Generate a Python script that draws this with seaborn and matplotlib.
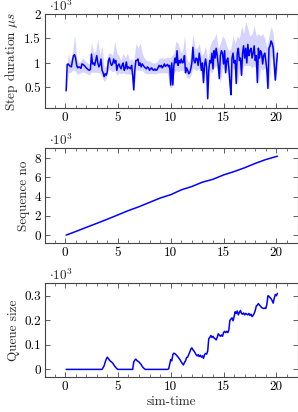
import numpy as np
import pandas as pd
import matplotlib
matplotlib.use("Agg")
import matplotlib.pyplot as plt
import seaborn as sns
from matplotlib.ticker import MultipleLocator, FixedLocator, FuncFormatter

# ---------------- data (values in thousands) ----------------
step_time = [round(0.1 + 0.1 * i, 1) for i in range(201)]
step_mean = [
    0.43, 0.97, 0.98, 0.95, 0.93, 0.92, 1.05, 1.15, 1.17, 1.10,
    0.95, 0.90, 0.92, 0.91, 0.89, 0.98, 0.97, 0.95, 0.93, 0.90,
    0.88, 0.86, 0.85, 0.87, 1.18, 0.98, 1.00, 0.95, 1.05, 1.15,
    1.00, 0.92, 0.96, 1.08, 0.85, 0.80, 0.72, 0.78, 0.75, 0.82,
    1.05, 1.10, 1.00, 0.95, 0.98, 1.08, 1.00, 1.05, 0.85, 0.95,
    0.98, 0.92, 0.88, 0.96, 1.00, 0.85, 0.90, 1.02, 0.88, 0.92,
    0.90, 0.88, 0.95, 0.75, 0.45, 0.85, 1.05, 1.05, 1.08, 0.95,
    1.00, 0.92, 0.98, 0.95, 0.92, 0.90, 0.88, 0.92, 0.90, 0.85,
    0.88, 0.90, 0.86, 0.85, 0.88, 0.85, 0.86, 0.90, 0.95, 0.92,
    0.95, 0.90, 0.93, 0.98, 0.93, 0.95, 0.97, 0.92, 0.95, 0.55,
    1.00, 0.55, 0.95, 1.10, 1.00, 1.25, 0.95, 1.05, 1.00, 1.08,
    1.00, 1.02, 1.15, 0.80, 0.90, 0.85, 0.78, 0.80, 0.88, 1.00,
    1.32, 1.05, 1.00, 1.10, 1.08, 0.95, 1.20, 1.05, 0.85, 1.00,
    0.60, 0.95, 1.08, 0.90, 0.27, 0.85, 1.05, 1.00, 1.20, 0.88,
    1.25, 1.10, 1.30, 1.15, 0.95, 0.68, 1.15, 1.25, 1.20, 0.98,
    1.25, 0.80, 1.05, 1.10, 0.90, 0.60, 0.35, 1.10, 1.20, 1.00,
    1.05, 0.58, 1.20, 1.30, 1.05, 1.10, 0.75, 1.20, 1.35, 1.10,
    1.30, 1.00, 1.38, 1.15, 1.25, 1.30, 1.10, 1.20, 1.35, 1.05,
    1.15, 0.60, 1.30, 1.10, 1.25, 1.20, 0.98, 1.15, 1.20, 1.05,
    0.85, 0.48, 1.30, 1.35, 1.45, 1.40, 1.30, 0.95, 0.65, 0.95,
    1.20,
]

band_time = [round(0.1 + 0.2 * i, 1) for i in range(101)]
band_upper = [
    0.60, 1.20, 1.05, 1.20, 1.57, 1.10, 1.00, 1.05, 1.10, 1.05,
    1.00, 0.98, 1.42, 1.20, 1.25, 1.48, 1.15, 1.35, 0.90, 0.95,
    1.20, 1.20, 1.15, 1.45, 1.20, 1.15, 1.05, 1.20, 1.10, 1.20,
    1.05, 1.10, 1.00, 1.40, 1.30, 1.40, 1.20, 1.10, 1.05, 1.05,
    1.02, 1.00, 1.00, 1.02, 1.10, 1.10, 1.10, 1.10, 1.12, 1.10,
    1.15, 1.20, 1.45, 1.40, 1.25, 1.20, 1.55, 1.10, 1.00, 1.15,
    1.60, 1.30, 1.30, 1.40, 1.15, 1.20, 1.35, 1.05, 1.35, 1.45,
    1.50, 1.60, 1.30, 1.40, 1.55, 1.50, 1.35, 1.25, 1.30, 1.55,
    1.40, 1.55, 1.50, 1.75, 1.60, 1.85, 1.70, 1.55, 1.60, 1.75,
    1.55, 1.60, 1.55, 1.60, 1.50, 1.30, 1.55, 1.75, 1.60, 1.10,
    1.30,
]
band_lower = [
    0.35, 0.80, 0.80, 0.85, 0.85, 0.78, 0.78, 0.80, 0.82, 0.80,
    0.78, 0.75, 0.82, 0.80, 0.82, 0.80, 0.80, 0.72, 0.62, 0.68,
    0.88, 0.85, 0.82, 0.85, 0.75, 0.80, 0.78, 0.80, 0.78, 0.78,
    0.78, 0.75, 0.40, 0.88, 0.85, 0.85, 0.85, 0.80, 0.78, 0.78,
    0.78, 0.78, 0.78, 0.78, 0.80, 0.80, 0.80, 0.80, 0.80, 0.50,
    0.50, 0.80, 0.85, 0.82, 0.85, 0.85, 0.85, 0.70, 0.68, 0.75,
    0.90, 0.85, 0.85, 0.90, 0.75, 0.55, 0.85, 0.25, 0.85, 0.80,
    0.90, 0.95, 0.80, 0.60, 0.90, 0.85, 0.85, 0.75, 0.33, 0.90,
    0.85, 0.55, 0.90, 0.70, 0.95, 0.95, 0.95, 0.95, 0.90, 0.95,
    0.85, 0.55, 0.90, 0.85, 0.90, 0.75, 0.45, 1.15, 1.00, 0.60,
    0.90,
]

seq_time = [0.1, 1, 2, 3, 4, 5, 6, 7, 8, 9, 10, 11, 12, 13, 14, 15, 16, 17, 18, 19, 20.1]
seq_no = [0.0, 0.37, 0.80, 1.22, 1.65, 2.10, 2.55, 2.95, 3.40, 3.85, 4.20,
          4.70, 5.05, 5.50, 5.80, 6.25, 6.60, 7.00, 7.45, 7.85, 8.20]

queue_time = [0.1, 3.5, 3.7, 3.8, 3.9, 4.0, 4.1, 4.2, 4.3, 4.4, 4.5, 4.6, 4.7, 4.8, 4.9, 5.0,
              6.3, 6.4, 6.5, 6.6, 6.7, 6.8, 6.9, 7.0, 7.1, 7.2, 7.3, 7.4, 7.5, 7.6,
              9.7, 9.8, 9.9, 10.0, 10.1, 10.2, 10.3, 10.4, 10.5, 10.6, 10.7, 10.8, 10.9, 11.0, 11.1, 11.2,
              11.3, 11.4, 11.5, 11.6, 11.7, 11.8, 11.9, 12.0, 12.1, 12.2, 12.3, 12.4, 12.5, 12.6, 12.7,
              12.8, 12.9, 13.0, 13.1, 13.2, 13.3, 13.4, 13.5, 13.6, 13.7, 13.8, 13.9, 14.0, 14.1, 14.2,
              14.3, 14.4, 14.5, 14.6, 14.7, 14.8, 14.9, 15.0, 15.1, 15.2, 15.3, 15.4, 15.5, 15.6, 15.7,
              15.8, 15.9, 16.0, 16.1, 16.2, 16.3, 16.4, 16.5, 16.6, 16.7, 16.8, 16.9, 17.0, 17.1, 17.2,
              17.3, 17.4, 17.5, 17.6, 17.7, 17.8, 17.9, 18.0, 18.1, 18.2, 18.3, 18.4, 18.5, 18.6, 18.7,
              18.8, 18.9, 19.0, 19.1, 19.2, 19.3, 19.4, 19.5, 19.6, 19.7, 19.8, 19.9, 20.0, 20.1]
queue_size = [0.0, 0.0, 0.015, 0.03, 0.042, 0.05, 0.044, 0.038, 0.033, 0.03, 0.026, 0.02, 0.013, 0.008, 0.003, 0.0,
              0.0, 0.0, 0.03, 0.038, 0.042, 0.036, 0.033, 0.03, 0.025, 0.02, 0.012, 0.007, 0.003, 0.0,
              0.0, 0.002, 0.02, 0.04, 0.035, 0.06, 0.066, 0.064, 0.06, 0.055, 0.05, 0.044, 0.038, 0.03, 0.024, 0.018,
              0.028, 0.035, 0.048, 0.05, 0.06, 0.07, 0.082, 0.088, 0.08, 0.075, 0.068, 0.06, 0.055, 0.06, 0.052,
              0.058, 0.05, 0.055, 0.045, 0.06, 0.065, 0.062, 0.075, 0.125, 0.13, 0.138, 0.13, 0.135, 0.128, 0.125,
              0.12, 0.13, 0.145, 0.14, 0.135, 0.14, 0.135, 0.15, 0.155, 0.15, 0.155, 0.15, 0.16, 0.2, 0.205,
              0.21, 0.198, 0.215, 0.235, 0.228, 0.238, 0.222, 0.232, 0.24, 0.228, 0.225, 0.23, 0.222, 0.228, 0.225,
              0.222, 0.228, 0.22, 0.225, 0.215, 0.22, 0.228, 0.24, 0.258, 0.262, 0.268, 0.262, 0.258, 0.252, 0.25,
              0.248, 0.25, 0.248, 0.265, 0.3, 0.298, 0.292, 0.288, 0.28, 0.27, 0.29, 0.305, 0.3, 0.31]

# ---------------- style ----------------
FS = 9.5
sns.set_theme(style="ticks")
plt.rcParams.update({
    "font.family": ["cmr10", "DejaVu Serif"],
    "mathtext.fontset": "cm",
    "axes.unicode_minus": False,
    "axes.formatter.use_mathtext": True,
    "font.size": FS,
    "axes.edgecolor": "#444444",
    "axes.linewidth": 0.8,
    "xtick.color": "#444444",
    "ytick.color": "#444444",
    "xtick.labelcolor": "black",
    "ytick.labelcolor": "black",
})

W, H = 298, 412
fig = plt.figure(figsize=(W / 100, H / 100), dpi=100)

def axes_px(top, bottom, left=45, right=297.5):
    return fig.add_axes([left / W, 1 - bottom / H, (right - left) / W, (bottom - top) / H])

ax1 = axes_px(14, 108)
ax2 = axes_px(148, 243)
ax3 = axes_px(283, 377)

blue = "#0000ff"

ax1.fill_between(band_time, band_lower, band_upper, color="#d4d4ff", linewidth=0)
sns.lineplot(x=step_time, y=step_mean, ax=ax1, color=blue, linewidth=1.1)
sns.lineplot(x=seq_time, y=seq_no, ax=ax2, color=blue, linewidth=1.1)
sns.lineplot(x=queue_time, y=queue_size, ax=ax3, color=blue, linewidth=1.1)

fmt = FuncFormatter(lambda v, p: f"{v:g}")
limits = [(0.08, 2.0), (-0.82, 9.05), (-0.031, 0.352)]
yticks = [[0.5, 1, 1.5, 2], [0, 2, 4, 6, 8], [0, 0.1, 0.2, 0.3]]
ylabels = [r"Step duration $\mu s$", "Sequence no", "Queue size"]

for ax, lim, yt, yl in zip([ax1, ax2, ax3], limits, yticks, ylabels):
    ax.set_xlim(-1.9, 22.0)
    ax.set_ylim(*lim)
    ax.xaxis.set_major_locator(MultipleLocator(5))
    ax.xaxis.set_minor_locator(MultipleLocator(1))
    ax.yaxis.set_major_locator(FixedLocator(yt))
    ax.xaxis.set_major_formatter(fmt)
    ax.yaxis.set_major_formatter(fmt)
    ax.tick_params(which="both", direction="in", top=True, right=True, labelsize=FS, pad=3)
    ax.tick_params(which="major", length=3.5, width=0.6)
    ax.tick_params(which="minor", length=2.0, width=0.5)
    for s in ax.spines.values():
        s.set_visible(True)
    ax.set_ylabel(yl, fontsize=FS, labelpad=3)
    ax.set_xlabel("")
    ax.text(0.015, 1.0, r"$\cdot 10^3$", transform=ax.transAxes, fontsize=FS, va="bottom", ha="left")

ax3.set_xlabel("sim-time", fontsize=FS, labelpad=2)

fig.savefig("out.png", dpi=100)
